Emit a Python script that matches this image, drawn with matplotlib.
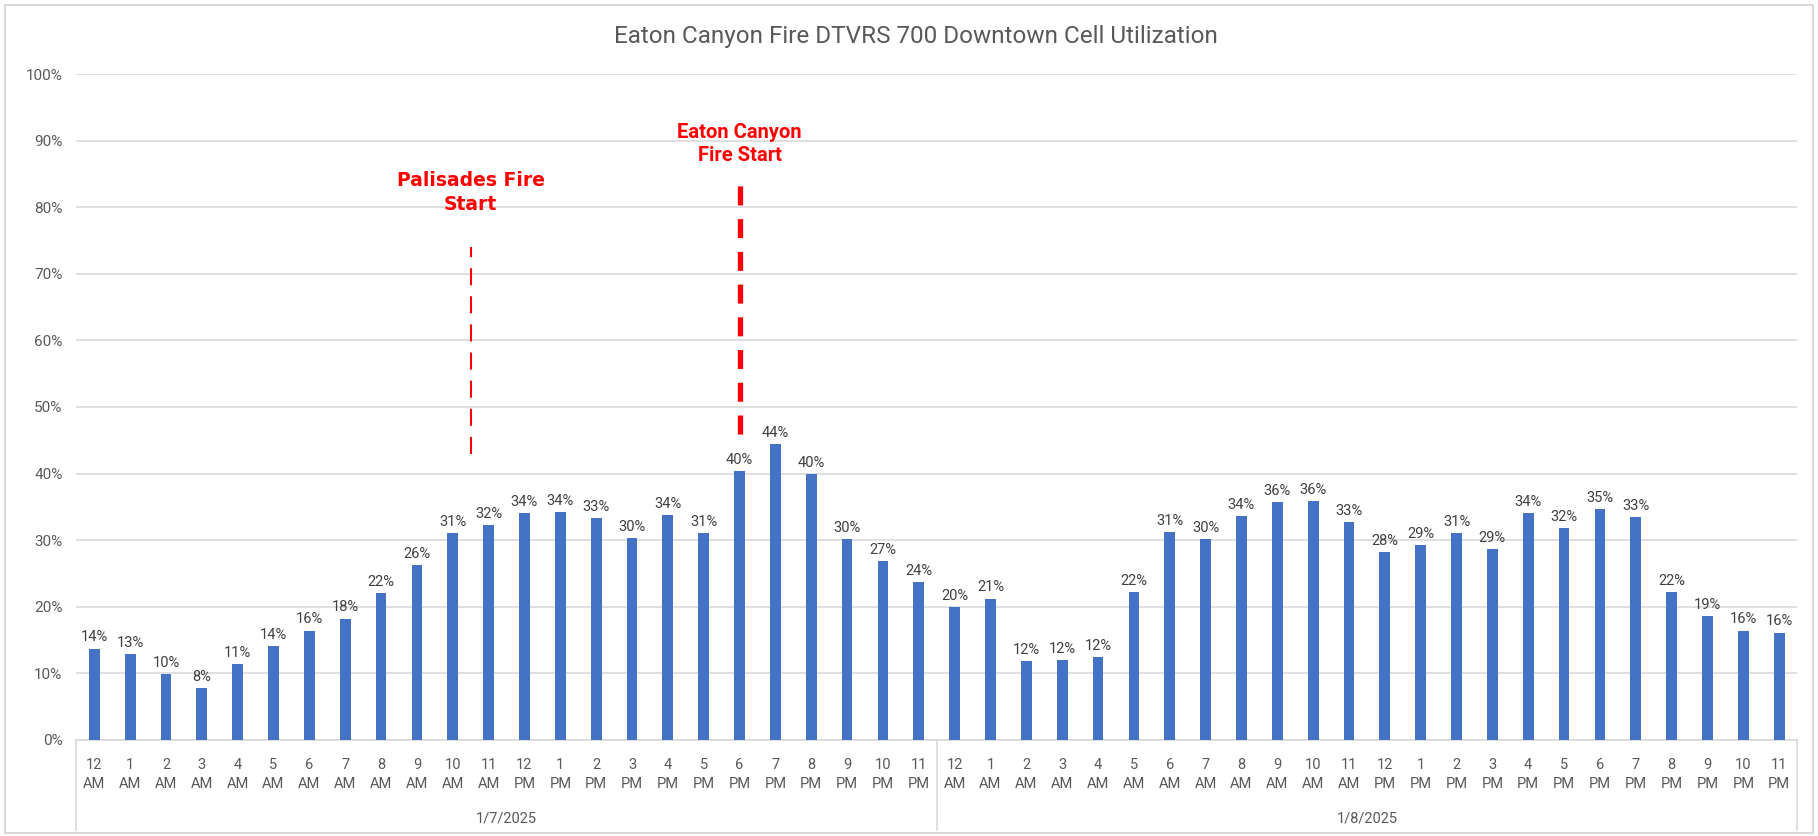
import matplotlib.pyplot as plt
from matplotlib.lines import Line2D
from matplotlib.patches import Rectangle
from matplotlib.ticker import PercentFormatter

plt.rcParams['font.family'] = ['Roboto', 'DejaVu Sans']

titulo = 'Eaton Canyon Fire DTVRS 700 Downtown Cell Utilization'
horas = ['12\nAM', '1\nAM', '2\nAM', '3\nAM', '4\nAM', '5\nAM', '6\nAM', '7\nAM',
         '8\nAM', '9\nAM', '10\nAM', '11\nAM', '12\nPM', '1\nPM', '2\nPM', '3\nPM',
         '4\nPM', '5\nPM', '6\nPM', '7\nPM', '8\nPM', '9\nPM', '10\nPM', '11\nPM']
fechas = ['1/7/2025', '1/8/2025']
dia1 = [13.7, 12.9, 9.9, 7.7, 11.4, 14.1, 16.4, 18.2, 22.0, 26.3, 31.0, 32.2,
        34.0, 34.2, 33.3, 30.3, 33.7, 31.0, 40.4, 44.4, 39.9, 30.1, 26.9, 23.7]
dia2 = [19.9, 21.2, 11.8, 12.0, 12.4, 22.2, 31.2, 30.1, 33.6, 35.7, 35.9, 32.7,
        28.2, 29.3, 31.0, 28.6, 34.0, 31.8, 34.6, 33.4, 22.2, 18.6, 16.4, 16.1]

# eventos: posicion en el eje x, rango vertical de la linea
palisades_x, palisades_y = 10.5, (0.43, 0.74)
eaton_x, eaton_y = 18, (0.46, 0.84)

valores = [v / 100 for v in dia1 + dia2]
etiquetas = horas * 2
x = list(range(len(valores)))

gris = '#D9D9D9'
texto = '#595959'

fig = plt.figure(figsize=(18.18, 8.36), dpi=100)
ax = fig.add_axes([0.042, 0.1152, 0.9465, 0.796])

ax.bar(x, valores, width=0.3, color='#4472C4', zorder=3)
for xi, v in zip(x, valores):
    ax.annotate(f'{round(v * 100):.0f}%', (xi, v), xytext=(0, 3), textcoords='offset points',
                ha='center', va='bottom', fontsize=10.5, color='#404040')

ax.set_xlim(-0.5, len(valores) - 0.5)
ax.set_ylim(0, 1)
ax.set_yticks([i / 10 for i in range(11)])
ax.yaxis.set_major_formatter(PercentFormatter(1.0, decimals=0))
ax.grid(axis='y', color=gris, linewidth=1.2, zorder=0)
ax.set_xticks(x)
ax.set_xticklabels(etiquetas, linespacing=1.45)
ax.tick_params(axis='x', length=0, pad=13, labelsize=10.5, labelcolor=texto)
ax.tick_params(axis='y', length=0, pad=10, labelsize=11, labelcolor=texto)
for lado in ['top', 'right', 'left']:
    ax.spines[lado].set_visible(False)
ax.spines['bottom'].set_color(gris)
ax.spines['bottom'].set_linewidth(1.2)

# separadores de dias y etiquetas de fecha
trans = ax.get_xaxis_transform()
for sx in [-0.5, 23.5, 47.5]:
    ax.add_line(Line2D([sx, sx], [0, -0.136], transform=trans, color=gris,
                       linewidth=1.2, clip_on=False))
for i, f in enumerate(fechas):
    ax.text(11.5 + 24 * i, -0.1177, f, transform=trans, ha='center', va='center',
            fontsize=10.5, color=texto)

# lineas de inicio de incendios
ax.plot([palisades_x, palisades_x], palisades_y, color='red', linewidth=1.5,
        dashes=(8.2, 5.3), zorder=4)
ax.text(palisades_x, 0.822, 'Palisades Fire\nStart', ha='center', va='center',
        color='red', fontsize=13.5, fontweight='bold', family='DejaVu Sans',
        linespacing=1.37)
ax.plot([eaton_x, eaton_x], eaton_y, color='red', linewidth=3.8,
        dashes=(3.6, 2.6), zorder=4)
ax.text(eaton_x, 0.895, 'Eaton Canyon\nFire Start', ha='center', va='center',
        color='red', fontsize=14.5, fontweight='bold', linespacing=1.25)

fig.text(0.504, 0.956, titulo, ha='center', va='center', fontsize=17.5, color=texto)

fig.patches.append(Rectangle((0.003, 0.004), 0.994, 0.99, transform=fig.transFigure,
                             fill=False, edgecolor=gris, linewidth=1.5))

fig.savefig('out.png', dpi=100)
